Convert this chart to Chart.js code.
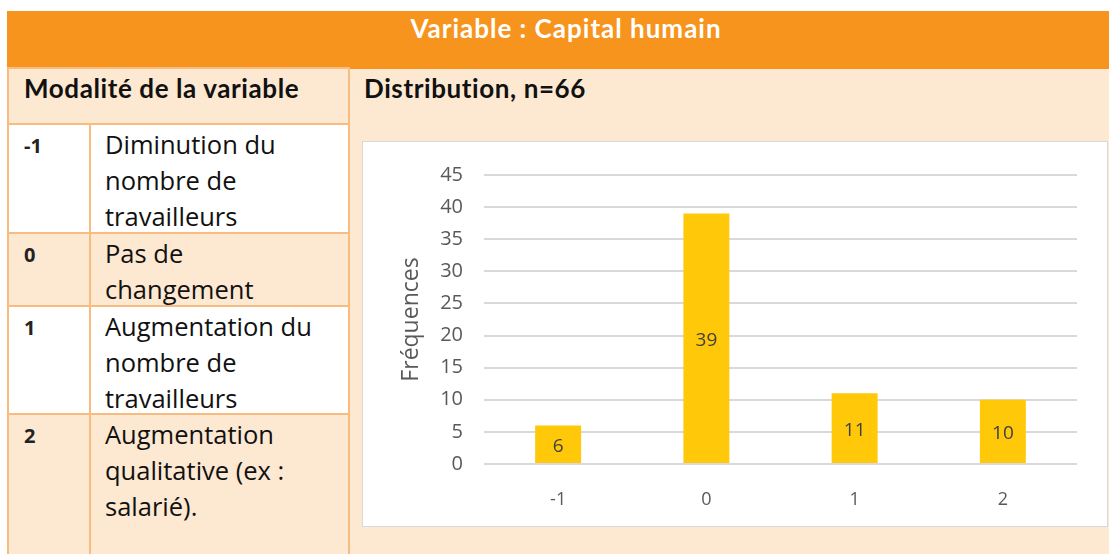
<!DOCTYPE html>
<html lang="fr">
<head>
<meta charset="utf-8">
<script src="https://cdn.jsdelivr.net/npm/chart.js@4"></script>
<style>
  body { margin: 0; background: #fff; width: 1109px; height: 554px; overflow: hidden; position: relative; font-family: "Open Sans", sans-serif; }
  .abs { position: absolute; box-sizing: border-box; }
  .head { left: 7px; top: 11px; width: 1110px; height: 58px; background: #F7941D; }
  .head span { position: absolute; left: 0; width: 1118px; top: 1px; line-height: 40px; text-align: center; color: #fff; font: bold 26px Lato, sans-serif; letter-spacing: 1px; }
  .peach { background: #FDE8D2; }
  .white { background: #fff; }
  .cell { border: 2px solid #F8BC80; }
  .hd { font: bold 26px Lato, sans-serif; color: #111; line-height: 38px; letter-spacing: 0.6px; }
  .code { font: bold 20px "Open Sans", sans-serif; color: #222; padding-left: 15px; line-height: 42px; }
  .txt { font-size: 25.5px; color: #111; line-height: 36px; padding-left: 14px; padding-top: 1px; }
  #box { left: 362px; top: 141px; width: 746px; height: 386px; background: #fff; border: 1px solid #D9D9D9; }
</style>
</head>
<body>
<div class="abs head"><span>Variable : Capital humain</span></div>

<div class="abs peach" style="left:348px;top:69px;width:770px;height:490px;"></div>
<div class="abs hd" style="left:364px;top:69px;">Distribution, n=66</div>

<div class="abs peach cell hd" style="left:7px;top:67px;width:343px;height:60px;padding-left:15px;">Modalité de la variable</div>

<div class="abs white cell code" style="left:7px;top:123px;width:85px;height:113px;">-1</div>
<div class="abs white cell txt" style="left:89px;top:123px;width:261px;height:113px;">Diminution du<br>nombre de<br>travailleurs</div>

<div class="abs peach cell code" style="left:7px;top:232px;width:85px;height:77px;">0</div>
<div class="abs peach cell txt" style="left:89px;top:232px;width:261px;height:77px;">Pas de<br>changement</div>

<div class="abs white cell code" style="left:7px;top:305px;width:85px;height:112px;">1</div>
<div class="abs white cell txt" style="left:89px;top:305px;width:261px;height:112px;">Augmentation du<br>nombre de<br>travailleurs</div>

<div class="abs peach cell code" style="left:7px;top:413px;width:85px;height:150px;">2</div>
<div class="abs peach cell txt" style="left:89px;top:413px;width:261px;height:150px;">Augmentation<br>qualitative (ex :<br>salarié).</div>

<div class="abs" id="box"><canvas id="chart"></canvas></div>

<script>
const categories = ['-1', '0', '1', '2'];
const frequencies = [6, 39, 11, 10];
const yTicks = [0, 5, 10, 15, 20, 25, 30, 35, 40, 45];

const textColor = '#595959';

// valeurs au centre des barres
const barLabels = {
  id: 'barLabels',
  afterDatasetsDraw(chart) {
    const ctx = chart.ctx;
    const meta = chart.getDatasetMeta(0);
    ctx.save();
    ctx.font = '19px "Open Sans", sans-serif';
    ctx.fillStyle = '#404040';
    ctx.textAlign = 'center';
    ctx.textBaseline = 'middle';
    meta.data.forEach((bar, i) => {
      ctx.fillText(String(frequencies[i]), bar.x, (bar.y + bar.base) / 2 + 2);
    });
    ctx.restore();
  }
};

new Chart(document.getElementById('chart'), {
  type: 'bar',
  data: {
    labels: categories,
    datasets: [{
      data: frequencies,
      backgroundColor: '#FFC90A',
      barPercentage: 0.31,
      categoryPercentage: 1
    }]
  },
  options: {
    responsive: true,
    maintainAspectRatio: false,
    animation: false,
    layout: { padding: { left: 35, right: 30, top: 27, bottom: 0 } },
    plugins: { legend: { display: false }, tooltip: { enabled: false } },
    scales: {
      x: {
        grid: { display: false },
        border: { display: false },
        ticks: { color: textColor, font: { family: 'Open Sans', size: 18 }, padding: 17 },
        afterFit: s => { s.height = 62; }
      },
      y: {
        min: 0,
        max: 45,
        afterBuildTicks: s => { s.ticks = yTicks.map(v => ({ value: v })); },
        grid: { color: '#D9D9D9', lineWidth: 2, drawTicks: false },
        border: { display: false },
        ticks: { color: textColor, font: { family: 'Open Sans', size: 20 }, padding: 21 },
        title: { display: true, text: 'Fréquences', color: textColor, font: { family: 'Open Sans', size: 23 }, padding: 0 },
        afterFit: s => { s.width = 86; }
      }
    }
  },
  plugins: [barLabels]
});
</script>
</body>
</html>
